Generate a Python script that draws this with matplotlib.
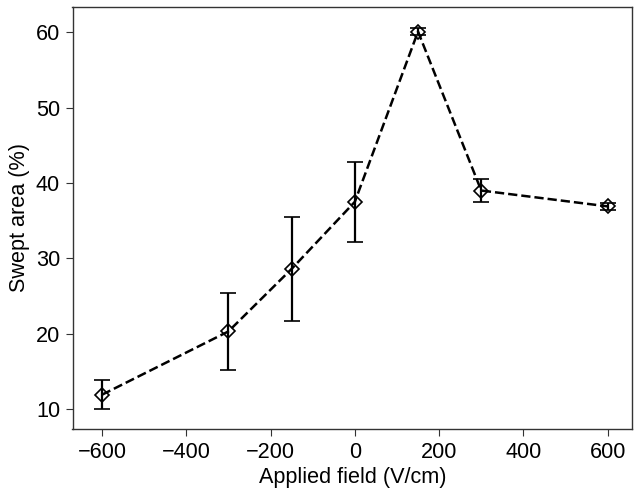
import matplotlib
matplotlib.use("Agg")
import matplotlib.pyplot as plt

field = [-600, -300, -150, 0, 150, 300, 600]
swept = [11.9, 20.3, 28.6, 37.5, 60.1, 39.0, 36.9]
err = [1.9, 5.15, 6.85, 5.3, 0.45, 1.5, 0.5]

plt.rcParams['font.family'] = ['Liberation Sans', 'DejaVu Sans']
fig = plt.figure(figsize=(6.34, 4.91), dpi=100)
ax = fig.add_axes([72.5/634, (491-429)/491, (632.5-72.5)/634, (429-6.7)/491])

ax.errorbar(field, swept, yerr=err, fmt='D', mfc='none', mec='black', ms=7,
            mew=1.2, ecolor='black', elinewidth=1.6, capsize=6, capthick=1.6,
            ls='--', color='black', lw=1.8, zorder=3)

ax.set_xlim(-670, 659)
ax.set_ylim(7.35, 63.4)
ax.set_xticks([-600, -400, -200, 0, 200, 400, 600])
ax.set_yticks([10, 20, 30, 40, 50, 60])
ax.set_xlabel('Applied field (V/cm)', fontsize=15.6, labelpad=3)
ax.set_ylabel('Swept area (%)', fontsize=15.6, labelpad=4)
ax.tick_params(labelsize=15.6, color='#333333', length=5, pad=4)
for s in ax.spines.values():
    s.set_color('#333333')
    s.set_linewidth(1.0)

fig.savefig('out.png', dpi=100)
